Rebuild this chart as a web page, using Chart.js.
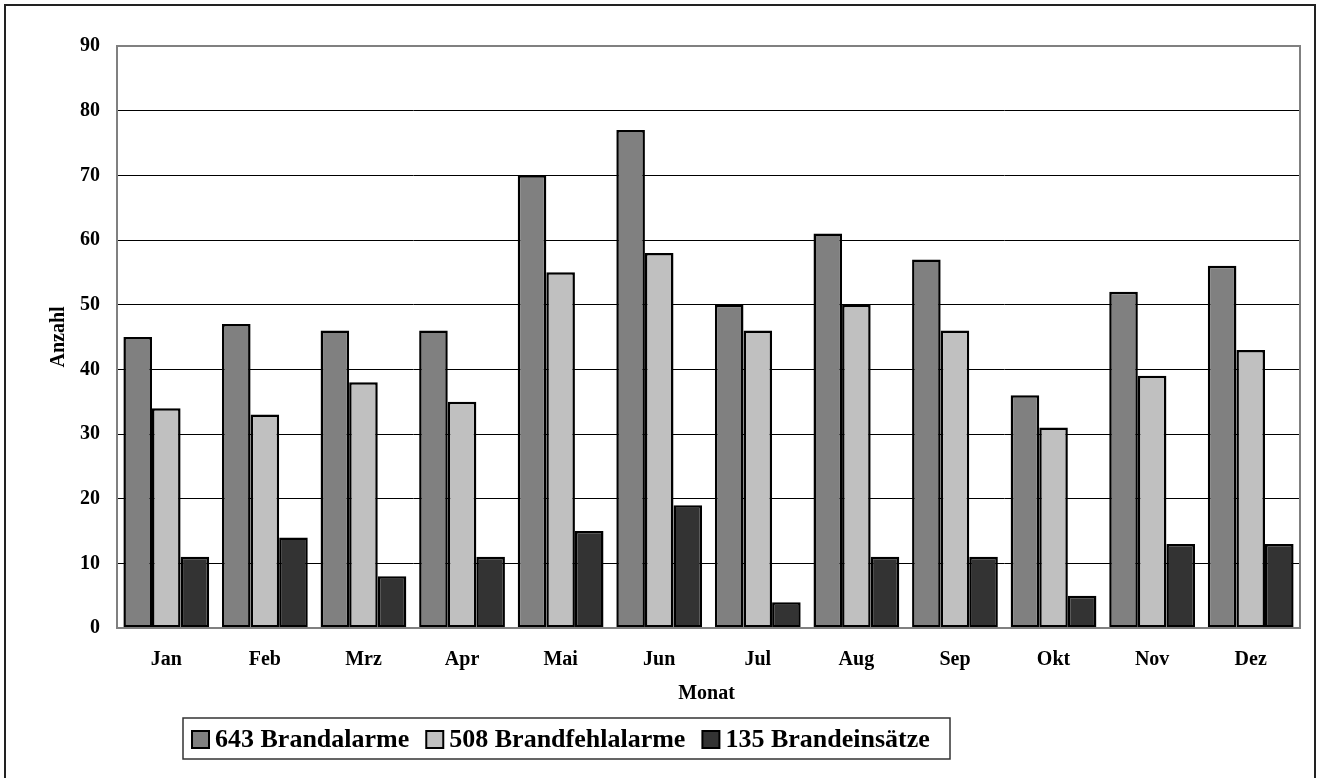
<!DOCTYPE html>
<html>
<head>
<meta charset="utf-8">
<script src="https://cdn.jsdelivr.net/npm/chart.js@4/dist/chart.umd.min.js"></script>
<style>
  html, body { margin: 0; padding: 0; background: #fff; }
  #wrap { position: relative; width: 1321px; height: 778px; overflow: hidden; }
  #frame { position: absolute; left: 4px; top: 4px; width: 1312px; height: 800px; border: 2px solid #222; box-sizing: border-box; pointer-events: none; }
  canvas { position: absolute; left: 0; top: 0; }
</style>
</head>
<body>
<div id="wrap">
  <canvas id="chart" width="1321" height="778"></canvas>
  <div id="frame"></div>
</div>
<script>
// ================== Daten ==================
const monate = ["Jan", "Feb", "Mrz", "Apr", "Mai", "Jun", "Jul", "Aug", "Sep", "Okt", "Nov", "Dez"];
const brandalarme = [45, 47, 46, 46, 70, 77, 50, 61, 57, 36, 52, 56];
const brandfehlalarme = [34, 33, 38, 35, 55, 58, 46, 50, 46, 31, 39, 43];
const brandeinsaetze = [11, 14, 8, 11, 15, 19, 4, 11, 11, 5, 13, 13];
const yTicks = [0, 10, 20, 30, 40, 50, 60, 70, 80, 90];

const font = "'Liberation Serif', 'Times New Roman', serif";

// Rahmen, Achsentitel und Legende selbst zeichnen
const extras = {
  id: "extras",
  afterDraw(chart) {
    const ctx = chart.ctx;
    const a = chart.chartArea;
    ctx.save();
    // Rahmen der Zeichenfläche
    ctx.strokeStyle = "#808080";
    ctx.lineWidth = 2;
    ctx.strokeRect(a.left, a.top, a.right - a.left, a.bottom - a.top);

    // Achsentitel
    ctx.fillStyle = "#000";
    ctx.font = "bold 20px " + font;
    ctx.textAlign = "center";
    ctx.textBaseline = "middle";
    ctx.fillText("Monat", (a.left + a.right) / 2 - 2, 694);
    ctx.save();
    ctx.translate(59, (a.top + a.bottom) / 2);
    ctx.rotate(-Math.PI / 2);
    ctx.fillText("Anzahl", 0, 0);
    ctx.restore();

    // Legende
    const lx = 183, ly = 718, lw = 767, lh = 41;
    ctx.strokeStyle = "#333";
    ctx.lineWidth = 1.5;
    ctx.strokeRect(lx, ly, lw, lh);
    ctx.font = "bold 26px " + font;
    ctx.textAlign = "left";
    let x = lx + 9;
    chart.data.datasets.forEach(ds => {
      ctx.fillStyle = ds.backgroundColor;
      ctx.fillRect(x, ly + 13, 17, 17);
      ctx.strokeStyle = "#000";
      ctx.lineWidth = 2;
      ctx.strokeRect(x, ly + 13, 17, 17);
      ctx.fillStyle = "#000";
      ctx.fillText(ds.label, x + 23, ly + 22);
      x += 23 + ctx.measureText(ds.label).width + 17;
    });
    ctx.restore();
  }
};

new Chart(document.getElementById("chart"), {
  type: "bar",
  data: {
    labels: monate,
    datasets: [
      { label: "643 Brandalarme", data: brandalarme, backgroundColor: "#808080" },
      { label: "508 Brandfehlalarme", data: brandfehlalarme, backgroundColor: "#c0c0c0" },
      { label: "135 Brandeinsätze", data: brandeinsaetze, backgroundColor: "#333333" }
    ].map(ds => Object.assign(ds, {
      borderColor: "#000",
      borderWidth: 2.5,
      borderSkipped: false,
      categoryPercentage: 0.87,
      barPercentage: 1
    }))
  },
  options: {
    responsive: false,
    animation: false,
    layout: { padding: { top: 46, left: 0, right: 21, bottom: 0 } },
    plugins: {
      legend: { display: false },
      tooltip: { enabled: false }
    },
    scales: {
      x: {
        grid: { display: false, drawTicks: false },
        border: { display: false },
        ticks: { color: "#000", font: { family: font, size: 20, weight: "bold" }, padding: 20 },
        afterFit(scale) { scale.height = 150; }
      },
      y: {
        min: 0,
        max: 90,
        afterBuildTicks(scale) { scale.ticks = yTicks.map(v => ({ value: v })); },
        grid: {
          drawTicks: false,
          lineWidth: 1,
          color: c => (c.tick && (c.tick.value === 90 || c.tick.value === 0)) ? "#808080" : "#000"
        },
        border: { color: "#808080", width: 2 },
        ticks: { color: "#000", font: { family: font, size: 20, weight: "bold" }, padding: 17 },
        afterFit(scale) { scale.width = 117; }
      }
    }
  },
  plugins: [extras]
});
</script>
</body>
</html>
